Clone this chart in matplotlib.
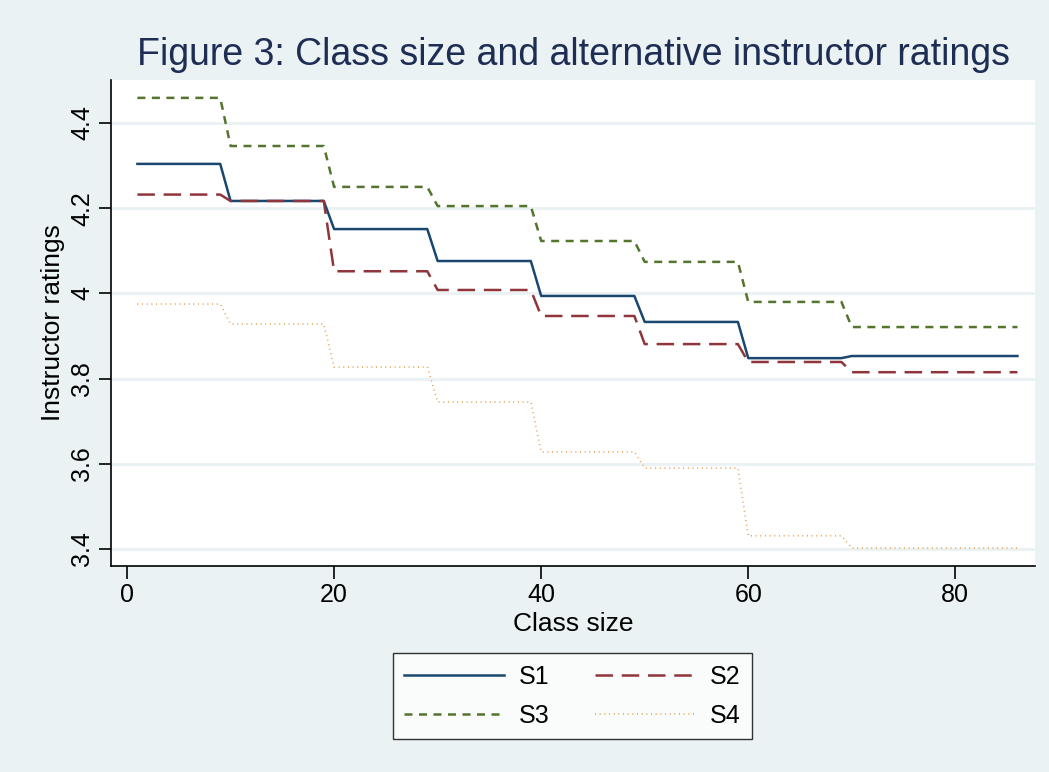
import numpy as np
import matplotlib
matplotlib.use("Agg")
import matplotlib.pyplot as plt

plt.rcParams['font.family'] = ['Liberation Sans', 'DejaVu Sans']

# Class-size bins (start of each bin) and the last class size shown
bin_starts = [1, 10, 20, 30, 40, 50, 60, 70]
max_size = 86

S1 = [4.304, 4.217, 4.151, 4.076, 3.994, 3.933, 3.848, 3.853]
S2 = [4.232, 4.217, 4.052, 4.008, 3.947, 3.881, 3.839, 3.815]
S3 = [4.459, 4.346, 4.250, 4.205, 4.123, 4.074, 3.980, 3.921]
S4 = [3.975, 3.928, 3.827, 3.745, 3.628, 3.590, 3.431, 3.402]

series_names = ["S1", "S2", "S3", "S4"]
colors = ["#1a476f", "#90353b", "#55752f", "#e8a250"]

x_ticks = [0, 20, 40, 60, 80]
y_ticks = [3.4, 3.6, 3.8, 4.0, 4.2, 4.4]
y_tick_labels = ["3.4", "3.6", "3.8", "4", "4.2", "4.4"]

x = np.arange(1, max_size + 1)
counts = np.diff(bin_starts + [max_size + 1])

bg = "#eaf2f3"
fig = plt.figure(figsize=(10.49, 7.72), dpi=100, facecolor=bg)
ax = fig.add_axes([0.1058, 0.2668, 0.8809, 0.6296])
ax.set_facecolor("white")

styles = [dict(linestyle="-", linewidth=1.8),
          dict(linestyle=(0, (7, 3.5)), linewidth=1.8),
          dict(linestyle=(0, (3.2, 2.6)), linewidth=1.8),
          dict(linestyle=(0, (0.6, 2.2)), linewidth=1.2)]

handles = []
for vals, name, c, st in zip([S1, S2, S3, S4], series_names, colors, styles):
    y = np.repeat(vals, counts)
    h, = ax.plot(x, y, color=c, label=name, **st)
    handles.append(h)

ax.set_xlim(-1.55, 87.7)
ax.set_ylim(3.36, 4.501)
ax.set_xticks(x_ticks)
ax.set_xticklabels([str(t) for t in x_ticks])
ax.set_yticks(y_ticks)
ax.set_yticklabels(y_tick_labels, rotation=90, va="center")
ax.grid(axis="y", color=bg, linewidth=2.2)
ax.set_axisbelow(True)
for s in ["top", "right"]:
    ax.spines[s].set_visible(False)
for s in ["left", "bottom"]:
    ax.spines[s].set_color("black")
    ax.spines[s].set_linewidth(1.2)
ax.tick_params(axis="both", direction="out", length=9, width=1.2,
               labelsize=18, colors="black", pad=3)

ax.set_xlabel("Class size", fontsize=19, labelpad=4)
ax.set_ylabel("Instructor ratings", fontsize=19, labelpad=4)
ax.set_title("Figure 3: Class size and alternative instructor ratings",
             fontsize=27, color="#1e2d53", pad=11)

order = [0, 2, 1, 3]
leg = fig.legend([handles[i] for i in order], [series_names[i] for i in order],
                 loc="center", bbox_to_anchor=(0.5458, 0.0984), ncol=2,
                 fontsize=18, frameon=True, fancybox=False,
                 edgecolor="black", handlelength=4.0, columnspacing=1.8,
                 handletextpad=0.6, borderpad=0.45, labelspacing=0.6)
leg.get_frame().set_linewidth(1.0)

fig.savefig("out.png", dpi=100, facecolor=bg)
